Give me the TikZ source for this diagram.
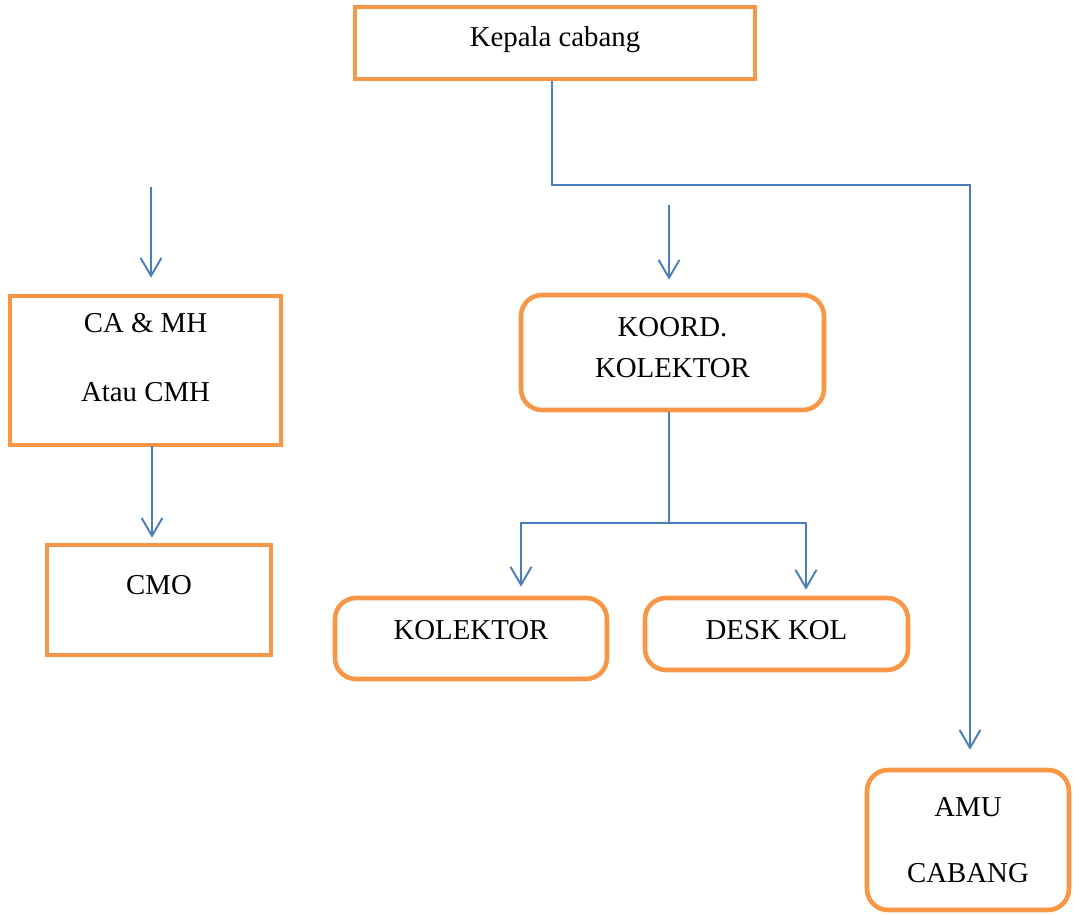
\documentclass[tikz,border=0pt]{standalone}
\usepackage{fontspec}
\setmainfont{Liberation Serif}
\usetikzlibrary{arrows.meta,positioning,calc}

\begin{document}
\begin{tikzpicture}[x=0.02cm,y=-0.02cm,
  >={Straight Barb[length=3.6mm,width=4.2mm]},
  box/.style={draw=boxorange,line width=2.6pt,fill=white,inner sep=0pt,
    align=center,font=\fontsize{16.4}{19.5}\selectfont},
  rbox/.style={box,rounded corners=0.42cm},
  link/.style={draw=linkblue,line width=1.1pt}]
  \definecolor{boxorange}{HTML}{F79646}
  \definecolor{linkblue}{HTML}{4A7EBB}
  \useasboundingbox (0,0) rectangle (1073,915);

  \node[box,minimum width=8cm,minimum height=1.44cm,text depth=0.24cm] (boss) at (555,43) {Kepala cabang};
  \node[box,minimum width=5.42cm,minimum height=2.98cm,text depth=0.52cm] (camh) at (145.5,370.5) {CA \& MH\\[0.7cm]Atau CMH};
  \node[box,minimum width=4.48cm,minimum height=2.2cm,text depth=0.6cm] (cmo) at (159,600) {CMO};
  \node[rbox,minimum width=6.06cm,minimum height=2.3cm,text depth=0.2cm] (koord) at (672.5,352.5) {KOORD.\\[0.12cm]KOLEKTOR};
  \node[rbox,minimum width=5.44cm,minimum height=1.62cm,text depth=0.34cm] (kol) at (471,638.5) {KOLEKTOR};
  \node[rbox,minimum width=5.26cm,minimum height=1.44cm,text depth=0.16cm] (desk) at (776.5,634) {DESK KOL};
  \node[rbox,minimum width=4.04cm,minimum height=2.8cm] (amu) at (968,840) {AMU\\[0.64cm]CABANG};

  % joints and loose ends
  \coordinate (bossj) at (970,185);
  \coordinate (camhin) at (151,187);
  \coordinate (camhout) at (152,446);
  \coordinate (koordin) at (669,205);
  \coordinate (koordj) at (669,523);
  \coordinate (kolj) at (521,523);
  \coordinate (deskj) at (806,523);

  \draw[link,->,shorten >=0.36cm] ($(boss.south)+(-3,0)$) |- (bossj) -- (bossj |- amu.north);
  \draw[link,->,shorten >=0.32cm] (camhin) -- (camhin |- camh.north);
  \draw[link,->,shorten >=0.26cm] (koordin) -- (koordin |- koord.north);
  \draw[link,->,shorten >=0.1cm] (camhout) -- (camhout |- cmo.north);
  \draw[link] (koordin |- koord.south) -- (koordj);
  \draw[link,->,shorten >=0.18cm] (koordj) -- (kolj) -- (kolj |- kol.north);
  \draw[link,->,shorten >=0.12cm] (koordj) -- (deskj) -- (deskj |- desk.north);
\end{tikzpicture}
\end{document}
